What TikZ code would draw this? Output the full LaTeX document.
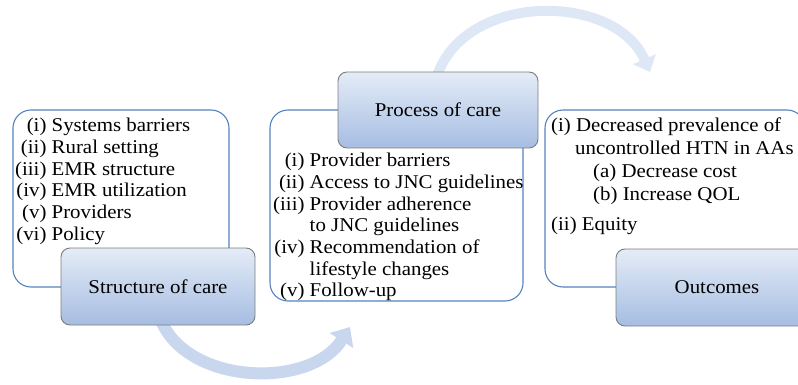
\documentclass[tikz,border=0pt]{standalone}
\usepackage{fontspec}
\setmainfont[FakeStretch=1.07]{Liberation Serif}
\usetikzlibrary{arrows.meta}
\definecolor{boxblue}{RGB}{84,130,192}
\definecolor{shadetop}{RGB}{228,236,247}
\definecolor{shadebot}{RGB}{166,189,226}
\definecolor{shadeline}{RGB}{125,125,125}
\definecolor{arrowA}{RGB}{200,214,238}
\definecolor{arrowB}{RGB}{221,231,245}
\newcommand{\txtfont}{\fontsize{19.5}{21.7}\selectfont}
\begin{document}
\begin{tikzpicture}[x=1pt,y=-1pt,
  listbox/.style={draw=boxblue, line width=1.1pt, rounded corners=18pt, fill=white, inner sep=0pt},
  headbox/.style={draw=shadeline, line width=0.9pt, rounded corners=9pt, top color=shadetop, bottom color=shadebot, inner sep=0pt, font=\txtfont},
  listtext/.style={anchor=base west, inner sep=0pt, font=\txtfont},
  flow/.style={line width=12pt, -{Triangle[width=27pt,length=16pt]}}]
\useasboundingbox (0,0) rectangle (798,385);
\clip (0,0) rectangle (798,385);

% curved arrows
\coordinate (b1) at (160,318);
\coordinate (b2) at (350,327);
\draw[flow, arrowA] (b1) .. controls (185,385) and (310,390) .. (b2);
\coordinate (t1) at (437,76);
\coordinate (t2) at (650,72);
\draw[flow, arrowB, line width=10pt, -{Triangle[width=24pt,length=14pt]}] (t1) .. controls (465,-8) and (615,-8) .. (t2);

% list boxes
\node[listbox, minimum width=216pt, minimum height=177pt] (sbox) at (121,198.5) {};
\node[listbox, minimum width=253pt, minimum height=191pt] (pbox) at (396.5,205.5) {};
\node[listbox, minimum width=260pt, minimum height=177pt] (obox) at (675,198.5) {};

% list texts
\node[listtext] (stext) at (15,131.7) {\begin{tabular}[t]{@{}r@{\ }l@{}}
(i)&Systems barriers\\
(ii)&Rural setting\\
(iii)&EMR structure\\
(iv)&EMR utilization\\
(v)&Providers\\
(vi)&Policy
\end{tabular}};

\node[listtext] (ptext) at (273,166.7) {\begin{tabular}[t]{@{}r@{\ }l@{}}
(i)&Provider barriers\\
(ii)&Access to JNC guidelines\\
(iii)&Provider adherence\\
&to JNC guidelines\\
(iv)&Recommendation of\\
&lifestyle changes\\
(v)&Follow-up
\end{tabular}};

\node[listtext] (otext) at (551,132) {\begin{tabular}[t]{@{}l@{}}
(i) Decreased prevalence of\\[1pt]
\hspace*{24pt}uncontrolled HTN in AAs\\[1pt]
\hspace*{42pt}(a) Decrease cost\\[1pt]
\hspace*{42pt}(b) Increase QOL\\[9.2pt]
(ii) Equity
\end{tabular}};

% header boxes
\node[headbox, minimum width=194pt, minimum height=77pt] (structure) at (158,286.5) {Structure of care};
\node[headbox, minimum width=200pt, minimum height=76pt] (process) at (438,110) {Process of care};
\node[headbox, minimum width=202pt, minimum height=77pt] (outcomes) at (717,287.5) {Outcomes};
\end{tikzpicture}
\end{document}
